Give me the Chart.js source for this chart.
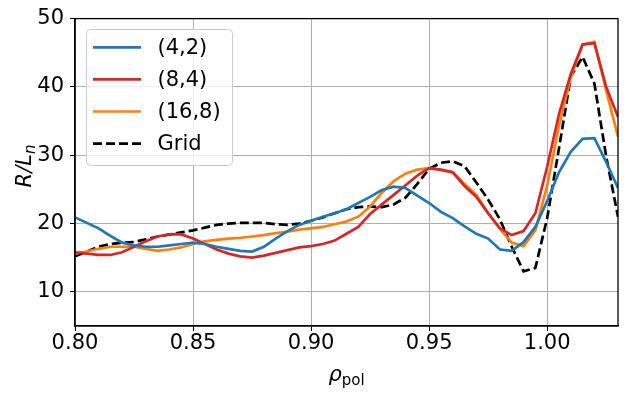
<!DOCTYPE html>
<html><head><meta charset="utf-8">
<script src="https://cdn.jsdelivr.net/npm/chart.js@4.4.0/dist/chart.umd.min.js"></script>
<style>html,body{margin:0;padding:0;background:#fff}#wrap{width:628px;height:395px}</style>
</head><body><div id="wrap"><canvas id="c" width="628" height="395"></canvas></div>
<script>
const rho = [0.800,0.805,0.810,0.815,0.820,0.825,0.830,0.835,0.840,0.845,0.850,0.855,0.860,0.865,0.870,0.875,0.880,0.885,0.890,0.895,0.900,0.905,0.910,0.915,0.920,0.925,0.930,0.935,0.940,0.945,0.950,0.955,0.960,0.965,0.970,0.975,0.980,0.985,0.990,0.995,1.000,1.005,1.010,1.015,1.020,1.025,1.030];
const s42 = [20.9,20.1,19.3,18.2,17.2,16.8,16.6,16.6,16.8,17.0,17.2,17.0,16.6,16.3,16.0,15.9,16.6,17.8,18.9,19.8,20.4,21.0,21.5,22.1,23.0,23.9,24.9,25.4,25.2,24.1,23.0,21.7,20.8,19.6,18.5,17.8,16.2,16.0,17.3,19.5,23.3,27.5,30.5,32.4,32.5,29.0,25.2];
const s84 = [15.8,15.6,15.4,15.4,15.8,16.6,17.4,18.1,18.4,18.4,17.8,17.0,16.2,15.6,15.2,15.0,15.3,15.7,16.1,16.5,16.7,17.0,17.5,18.5,19.5,21.4,22.8,24.2,25.6,27.0,28.1,27.9,27.5,25.5,23.9,21.5,19.3,18.3,18.9,21.5,28.3,36.0,41.9,46.2,46.4,40.0,35.6];
const s168 = [15.6,15.9,16.3,16.6,16.6,16.6,16.3,16.0,16.2,16.5,17.0,17.4,17.6,17.8,17.9,18.1,18.3,18.6,18.8,19.1,19.3,19.5,19.9,20.3,21.0,22.5,24.5,26.2,27.3,27.9,28.1,27.8,27.5,25.8,24.2,21.5,19.2,17.2,16.7,19.0,25.5,34.3,41.4,46.2,46.6,39.5,32.7];
const sGrid = [15.2,15.9,16.6,17.0,17.2,17.3,17.7,18.1,18.4,18.7,19.0,19.4,19.8,20.0,20.1,20.1,20.1,19.9,19.8,20.0,20.4,20.9,21.5,22.1,22.4,22.5,22.4,22.8,23.8,25.8,28.0,28.9,29.1,28.4,26.0,23.5,20.6,16.6,13.0,13.5,20.8,31.0,41.5,44.4,40.5,29.8,21.0];
const labels = ['(4,2)','(8,4)','(16,8)','Grid'];
const xTicks = [0.80,0.85,0.90,0.95,1.00];
const yTicks = [10,20,30,40,50];

const FONT = '"DejaVu Sans", sans-serif';
const pts = arr => arr.map((v,i)=>({x:rho[i], y:v}));

const deco = {
  id:'deco',
  afterDatasetsDraw(chart){
    const ctx = chart.ctx, a = chart.chartArea;
    ctx.save();
    // frame
    ctx.strokeStyle = '#000'; ctx.lineWidth = 1.3;
    ctx.strokeRect(a.left, a.top, a.right-a.left, a.bottom-a.top);
    // legend
    const lx = 86, ly = 29, lw = 146, lh = 136;
    ctx.beginPath();
    ctx.roundRect(lx+0.5, ly+0.5, lw, lh, 4);
    ctx.fillStyle = 'rgba(255,255,255,0.8)'; ctx.fill();
    ctx.strokeStyle = '#cccccc'; ctx.lineWidth = 1; ctx.stroke();
    chart.data.datasets.forEach((ds,i)=>{
      const yy = 47.3 + i*32.1;
      ctx.beginPath();
      ctx.setLineDash(ds.borderDash || []);
      ctx.strokeStyle = ds.borderColor; ctx.lineWidth = ds.borderWidth;
      ctx.moveTo(93, yy); ctx.lineTo(141, yy); ctx.stroke();
      ctx.setLineDash([]);
      ctx.fillStyle = '#000'; ctx.font = '21px ' + FONT;
      ctx.textBaseline = 'middle'; ctx.textAlign = 'left';
      ctx.fillText(ds.label, 157.5, yy+1);
    });
    // y title R/L_n
    ctx.save();
    ctx.translate(31, 166);
    ctx.rotate(-Math.PI/2);
    ctx.fillStyle = '#000'; ctx.textBaseline = 'alphabetic'; ctx.textAlign = 'left';
    ctx.font = 'italic 21px ' + FONT;
    const w1 = ctx.measureText('R/L').width;
    ctx.font = 'italic 15px ' + FONT;
    const w2 = ctx.measureText('n').width;
    const start = -(w1+w2)/2;
    ctx.font = 'italic 21px ' + FONT;
    ctx.fillText('R/L', start, 0);
    ctx.font = 'italic 15px ' + FONT;
    ctx.fillText('n', start + w1, 4);
    ctx.restore();
    // x title rho_pol
    ctx.font = 'italic 21px ' + FONT;
    const r1 = ctx.measureText('ρ').width;
    ctx.font = '15px ' + FONT;
    const r2 = ctx.measureText('pol').width;
    const cx = (a.left + a.right)/2 - (r1+r2)/2;
    ctx.fillStyle = '#000'; ctx.textBaseline = 'alphabetic'; ctx.textAlign = 'left';
    ctx.font = 'italic 21px ' + FONT;
    ctx.fillText('ρ', cx, 381);
    ctx.font = '15px ' + FONT;
    ctx.fillText('pol', cx + r1, 385);
    ctx.restore();
  }
};

new Chart(document.getElementById('c'), {
  type:'line',
  data:{ datasets:[
    {label:labels[0], data:pts(s42), borderColor:'#1f77b4', borderWidth:2.7},
    {label:labels[1], data:pts(s84), borderColor:'#d62728', borderWidth:2.7},
    {label:labels[2], data:pts(s168), borderColor:'#ff7f0e', borderWidth:2.7},
    {label:labels[3], data:pts(sGrid), borderColor:'#000000', borderWidth:2.7, borderDash:[9,4]}
  ]},
  options:{
    responsive:false, animation:false, devicePixelRatio:1,
    layout:{padding:{top:18,right:10,left:0,bottom:0}},
    elements:{point:{radius:0}, line:{tension:0, fill:false}},
    plugins:{legend:{display:false}, tooltip:{enabled:false}},
    scales:{
      x:{type:'linear', min:0.8, max:1.03,
        afterBuildTicks(s){ s.ticks = xTicks.map(v=>({value:v})); },
        afterFit(s){ s.height = 69; },
        grid:{color:'#b0b0b0', lineWidth:1, tickColor:'#000', tickLength:5},
        border:{display:true, color:'#000', width:1.3},
        ticks:{color:'#000', font:{family:FONT, size:21}, padding:0, maxRotation:0,
          callback:v=>Number(v).toFixed(2)}
      },
      y:{type:'linear', min:5, max:50,
        afterBuildTicks(s){ s.ticks = yTicks.map(v=>({value:v})); },
        afterFit(s){ s.width = 75; },
        grid:{color:'#b0b0b0', lineWidth:1, tickColor:'#000', tickLength:5},
        border:{display:true, color:'#000', width:1.3},
        ticks:{color:'#000', font:{family:FONT, size:21}, padding:6,
          callback:v=>String(v)}
      }
    }
  },
  plugins:[deco]
});
</script>
</body></html>
